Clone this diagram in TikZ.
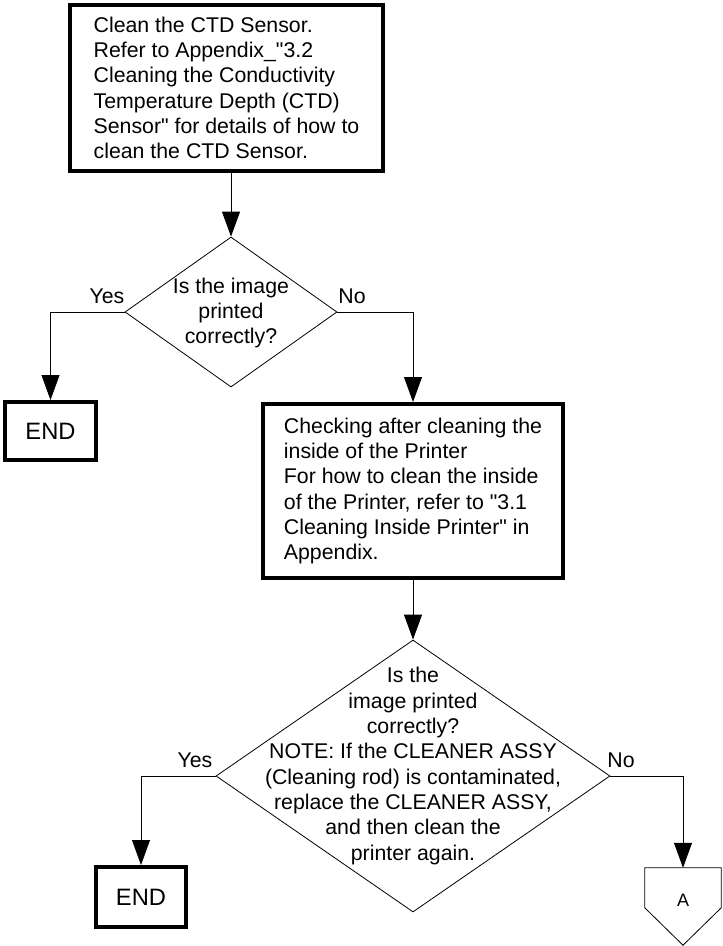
\documentclass[tikz,border=0pt]{standalone}
\usepackage{fontspec}
\setmainfont{Liberation Sans}[Ligatures=TeXOff]
\usetikzlibrary{arrows.meta,shapes.geometric}
\begin{document}
\begin{tikzpicture}[x=1pt,y=-1pt,
  every node/.style={font=\fontsize{21.3}{25.3}\selectfont},
  boxnode/.style={draw, line width=4pt, rectangle, align=left, inner sep=0pt},
  endnode/.style={boxnode, font=\fontsize{23.7}{28}\selectfont},
  decision/.style={draw, line width=0.8pt, diamond, inner sep=0pt},
  qtext/.style={align=center, inner sep=0pt},
  conn/.style={line width=0.8pt, -{Triangle[length=25pt,width=18pt]}},
  lbl/.style={inner sep=0pt},
  offpage/.style={rectangle, inner sep=0pt, minimum width=76pt, minimum height=77pt}]
\useasboundingbox (0,0) rectangle (723,946);

\node[boxnode, minimum width=313pt, minimum height=166pt] (b1) at (226.5,88)
  {Clean the CTD Sensor.\\Refer to Appendix\_"3.2\\Cleaning the Conductivity\\Temperature Depth (CTD)\\Sensor" for details of how to\\clean the CTD Sensor.};

\node[decision, minimum width=212pt, minimum height=150pt] (d1) at (231,312) {};
\node[qtext] (d1t) at (231,313) {Is the image\\printed\\correctly?};

\node[endnode, minimum width=91pt, minimum height=58pt] (e1) at (50.5,431) {END};

\node[boxnode, minimum width=300pt, minimum height=174pt] (b2) at (413,491)
  {Checking after cleaning the\\inside of the Printer\\For how to clean the inside\\of the Printer, refer to "3.1\\Cleaning Inside Printer" in\\Appendix.};

\node[decision, minimum width=394pt, minimum height=272pt] (d2) at (413,776) {};
\node[qtext] (d2t) at (413,766) {Is the\\image printed\\correctly?\\NOTE: If the CLEANER ASSY\\(Cleaning rod) is contaminated,\\replace the CLEANER ASSY,\\and then clean the\\printer again.};

\node[endnode, minimum width=90pt, minimum height=60pt] (e2) at (141,897) {END};

\node[offpage] (A) at (683,906.5) {};
\draw[line width=0.8pt] (A.north west) -- (A.north east) -- ([yshift=-40pt]A.north east)
  -- (A.south) -- ([yshift=-40pt]A.north west) -- cycle;
\node[lbl, font=\fontsize{18}{20}\selectfont] (At) at (683,900) {A};

\draw[conn] (d1.north |- b1.south) -- (d1.north);
\draw[conn] (d1.west) -| (e1.north);
\draw[conn] (d1.east) -| (b2.north);
\draw[conn] (b2.south) -- (d2.north);
\draw[conn] (d2.west) -| (e2.north);
\draw[conn] (d2.east) -| (A.north);

\node[lbl] (y1) at (107,296) {Yes};
\node[lbl] (n1) at (352,296) {No};
\node[lbl] (y2) at (195,760) {Yes};
\node[lbl] (n2) at (621,760) {No};
\end{tikzpicture}
\end{document}
